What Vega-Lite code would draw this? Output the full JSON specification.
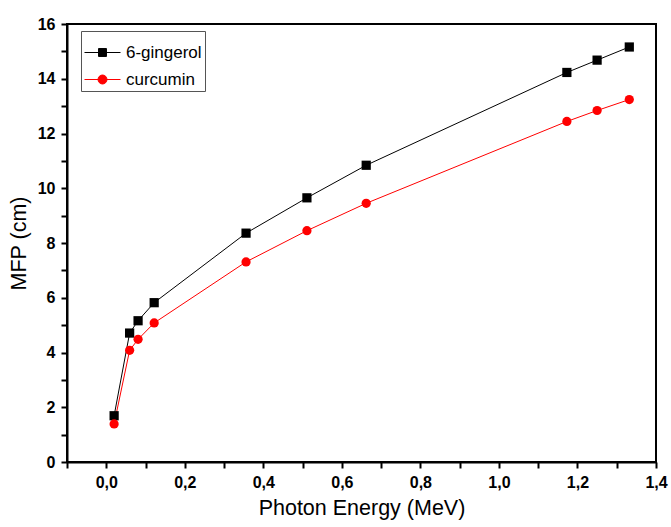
{
  "$schema": "https://vega.github.io/schema/vega-lite/v6.json",
  "width": 589,
  "height": 438,
  "autosize": "none",
  "padding": {"left": 67, "top": 24, "right": 15, "bottom": 65},
  "background": "white",
  "config": {
    "view": {"stroke": "black", "strokeWidth": 2},
    "font": "Liberation Sans",
    "legend": {
      "title": null,
      "orient": "none",
      "legendX": 14,
      "legendY": 7,
      "strokeColor": "#555555",
      "strokeWidth": 1,
      "fillColor": "white",
      "padding": 3,
      "symbolSize": 1296,
      "symbolStrokeWidth": 1,
      "symbolOpacity": 1,
      "labelFont": "Liberation Sans",
      "labelFontSize": 17,
      "labelColor": "black",
      "labelOffset": 5,
      "rowPadding": -6
    }
  },
  "data": {
    "values": [
      {"e": 0.02, "mfp": 1.69, "s": "6-gingerol"},
      {"e": 0.0595, "mfp": 4.71, "s": "6-gingerol"},
      {"e": 0.081, "mfp": 5.16, "s": "6-gingerol"},
      {"e": 0.122, "mfp": 5.82, "s": "6-gingerol"},
      {"e": 0.356, "mfp": 8.36, "s": "6-gingerol"},
      {"e": 0.511, "mfp": 9.65, "s": "6-gingerol"},
      {"e": 0.662, "mfp": 10.84, "s": "6-gingerol"},
      {"e": 1.173, "mfp": 14.23, "s": "6-gingerol"},
      {"e": 1.25, "mfp": 14.68, "s": "6-gingerol"},
      {"e": 1.332, "mfp": 15.16, "s": "6-gingerol"},
      {"e": 0.02, "mfp": 1.39, "s": "curcumin"},
      {"e": 0.0595, "mfp": 4.08, "s": "curcumin"},
      {"e": 0.081, "mfp": 4.48, "s": "curcumin"},
      {"e": 0.122, "mfp": 5.08, "s": "curcumin"},
      {"e": 0.356, "mfp": 7.31, "s": "curcumin"},
      {"e": 0.511, "mfp": 8.45, "s": "curcumin"},
      {"e": 0.662, "mfp": 9.45, "s": "curcumin"},
      {"e": 1.173, "mfp": 12.44, "s": "curcumin"},
      {"e": 1.25, "mfp": 12.84, "s": "curcumin"},
      {"e": 1.332, "mfp": 13.24, "s": "curcumin"}
    ]
  },
  "encoding": {
    "x": {
      "field": "e",
      "type": "quantitative",
      "scale": {"domain": [-0.1, 1.4], "nice": false, "zero": false},
      "axis": {
        "title": "Photon Energy (MeV)",
        "values": [-0.1, 0, 0.1, 0.2, 0.3, 0.4, 0.5, 0.6, 0.7, 0.8, 0.9, 1.0, 1.1, 1.2, 1.3, 1.4],
        "labelExpr": "round(datum.value*10) % 2 == 0 ? replace(format(datum.value, '.1f'), '.', ',') : ''",
        "grid": false,
        "domainColor": "black",
        "domainWidth": 2,
        "tickColor": "black",
        "tickWidth": 2,
        "tickSize": 6,
        "labelFont": "Liberation Sans",
        "labelFontWeight": "bold",
        "labelFontSize": 16,
        "labelColor": "black",
        "labelPadding": 6,
        "labelFlush": false,
        "labelOverlap": false,
        "titleFont": "Liberation Sans",
        "titleFontSize": 21.5,
        "titleFontWeight": "normal",
        "titleColor": "black",
        "titlePadding": 7,
        "zindex": 1
      }
    },
    "y": {
      "field": "mfp",
      "type": "quantitative",
      "scale": {"domain": [0, 16], "nice": false},
      "axis": {
        "title": "MFP (cm)",
        "values": [0, 1, 2, 3, 4, 5, 6, 7, 8, 9, 10, 11, 12, 13, 14, 15, 16],
        "labelExpr": "datum.value % 2 == 0 ? format(datum.value, 'd') : ''",
        "grid": false,
        "domainColor": "black",
        "domainWidth": 2,
        "tickColor": "black",
        "tickWidth": 2,
        "tickSize": 6,
        "labelFont": "Liberation Sans",
        "labelFontWeight": "bold",
        "labelFontSize": 16,
        "labelColor": "black",
        "labelPadding": 6,
        "labelFlush": false,
        "labelOverlap": false,
        "titleFont": "Liberation Sans",
        "titleFontSize": 21.5,
        "titleFontWeight": "normal",
        "titleColor": "black",
        "titlePadding": 7,
        "zindex": 1
      }
    }
  },
  "layer": [
    {
      "transform": [{"filter": "datum.s == '6-gingerol'"}],
      "mark": {"type": "line", "strokeWidth": 1, "color": "black"}
    },
    {
      "transform": [{"filter": "datum.s == 'curcumin'"}],
      "mark": {"type": "line", "strokeWidth": 1, "color": "#ff0000"}
    },
    {
      "transform": [{"filter": "datum.s == '6-gingerol'"}],
      "mark": {"type": "point", "shape": "square", "filled": true, "opacity": 1, "size": 85, "color": "black"}
    },
    {
      "transform": [{"filter": "datum.s == 'curcumin'"}],
      "mark": {"type": "point", "shape": "circle", "filled": true, "opacity": 1, "size": 85, "color": "#ff0000"}
    },
    {
      "transform": [{"filter": "false"}],
      "mark": {"type": "point", "filled": true, "opacity": 1},
      "encoding": {
        "fill": {
          "field": "s",
          "type": "nominal",
          "scale": {"domain": ["6-gingerol", "curcumin"], "range": ["black", "#ff0000"]},
          "legend": {"title": null}
        },
        "stroke": {
          "field": "s",
          "type": "nominal",
          "scale": {"domain": ["6-gingerol", "curcumin"], "range": ["black", "#ff0000"]},
          "legend": {"title": null}
        },
        "shape": {
          "field": "s",
          "type": "nominal",
          "scale": {"domain": ["6-gingerol", "curcumin"], "range": ["M-1,0H1M-0.22,-0.22H0.22V0.22H-0.22Z", "M-1,0H1M-0.25,0A0.25,0.25,0,1,1,0.25,0A0.25,0.25,0,1,1,-0.25,0Z"]},
          "legend": {"title": null}
        }
      }
    }
  ]
}
